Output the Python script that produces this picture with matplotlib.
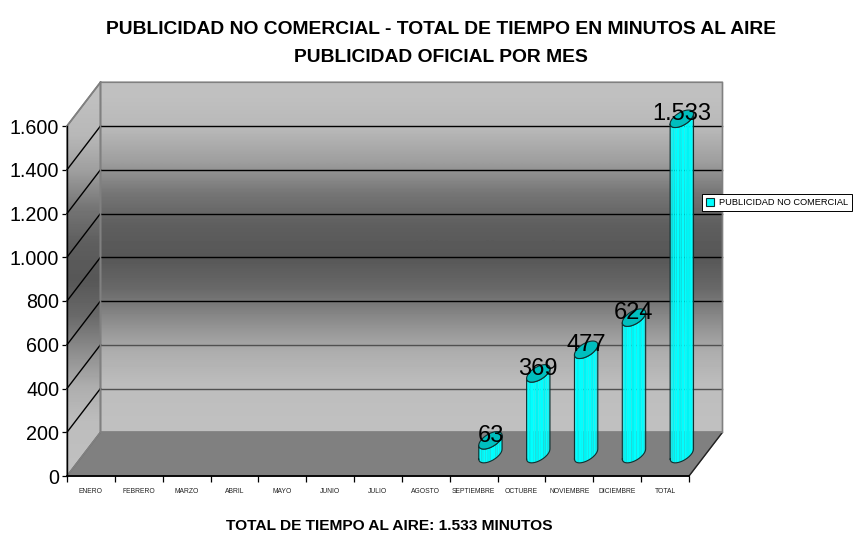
import matplotlib
matplotlib.use('Agg')
import matplotlib.pyplot as plt
import numpy as np
from matplotlib.patches import Patch, Polygon

plt.rcParams['font.family'] = ['Liberation Sans', 'DejaVu Sans']

meses = ['ENERO', 'FEBRERO', 'MARZO', 'ABRIL', 'MAYO', 'JUNIO', 'JULIO', 'AGOSTO',
         'SEPTIEMBRE', 'OCTUBRE', 'NOVIEMBRE', 'DICIEMBRE', 'TOTAL']
minutos = [0, 0, 0, 0, 0, 0, 0, 0, 63, 369, 477, 624, 1533]
valores_y = [0, 200, 400, 600, 800, 1000, 1200, 1400, 1600]
gris_pared = [0.75, 0.72, 0.62, 0.46, 0.37, 0.34, 0.41, 0.55, 0.68, 0.74, 0.75]

# fake 3D: depth moves the point right and up
dx = 0.70
dy = 200
n = len(meses)
ymax = valores_y[-1]


# point on the cylinder ring, t in radians
def anillo(i, altura, t):
    r = 0.2
    prof = 0.5 + r * np.sin(t)
    return i + 0.5 + r * np.cos(t) + prof * dx, altura + prof * dy


# draws one bar: body in thin strips, then the top ellipse
def cilindro(ax, i, valor):
    t0 = np.arctan2(0.2 * dx, 0.2)
    ts = np.linspace(t0 - np.pi, t0, 15)
    for k in range(len(ts) - 1):
        tt = np.linspace(ts[k], ts[k + 1], 5)
        x0, y0 = anillo(i, 0, tt)
        x1, y1 = anillo(i, valor, tt[::-1])
        color = '#00F4F4' if k % 3 == 0 else '#00FFFF'
        if k > 11:
            color = '#00E0E0'
        ax.fill(np.r_[x0, x1], np.r_[y0, y1], color=color, lw=0, clip_on=False, zorder=4)
    xb, yb = anillo(i, 0, ts)
    xa, ya = anillo(i, valor, ts[::-1])
    ax.plot(np.r_[xb, xa, xb[0]], np.r_[yb, ya, yb[0]], color='#103030', lw=0.8, clip_on=False, zorder=5)
    t = np.linspace(0, 2 * np.pi, 60)
    xt, yt = anillo(i, valor, t)
    ax.fill(xt, yt, facecolor='#00BEBE', edgecolor='#103030', lw=0.8, clip_on=False, zorder=6)


fig = plt.figure(figsize=(8.55, 5.33), dpi=100)
ax = fig.add_axes([67 / 855, (533 - 476) / 533, 622 / 855, 350 / 533])
ax.patch.set_visible(False)

grad = np.array(gris_pared).reshape(-1, 1)

# back wall
ax.imshow(grad, extent=(dx, n + dx, dy, ymax + dy), cmap='gray', vmin=0, vmax=1, aspect='auto',
          interpolation='bilinear', clip_on=False, zorder=0)

# left wall, same gradient cut to the side shape
lado = Polygon([(0, 0), (dx, dy), (dx, ymax + dy), (0, ymax)], closed=True, transform=ax.transData,
               facecolor='none', edgecolor='#808080', lw=1.2, clip_on=False, zorder=2)
ax.add_patch(lado)
im = ax.imshow(grad, extent=(0, dx, 0, ymax + dy), cmap='gray', vmin=0, vmax=1, aspect='auto',
               interpolation='bilinear', zorder=0)
im.set_clip_path(lado)
im.set_clip_box(fig.bbox)

# floor
ax.add_patch(Polygon([(0, 0), (n, 0), (n + dx, dy), (dx, dy)], closed=True, facecolor='#808080',
                     edgecolor='#606060', lw=1, clip_on=False, zorder=1))
ax.plot([n, n + dx], [0, dy], color='#202020', lw=0.9, clip_on=False, zorder=2)

# grid on both walls, the two lowest back lines are greyer
for v in valores_y[1:-1]:
    ax.plot([0, dx], [v, v + dy], color='black', lw=1, clip_on=False, zorder=2)
    ax.plot([dx, n + dx], [v + dy, v + dy], color='#505050' if v <= 400 else 'black', lw=1,
            clip_on=False, zorder=2)
ax.plot([0, dx, n + dx, n + dx, dx, dx], [ymax, ymax + dy, ymax + dy, dy, dy, ymax + dy],
        color='#808080', lw=1.2, clip_on=False, zorder=2)

for i, valor in enumerate(minutos):
    if valor > 0:
        cilindro(ax, i, valor)
        etiqueta = f'{valor:,}'.replace(',', '.')
        ax.annotate(etiqueta, (i + 0.5 + 0.5 * dx, valor + 0.5 * dy), xytext=(0, 3.2),
                    textcoords='offset points', ha='center', va='center', fontsize=17,
                    color='black', zorder=7, annotation_clip=False)

ax.set_xlim(0, n)
ax.set_ylim(0, ymax)
ax.set_xticks(np.arange(n + 1))
ax.set_xticks(np.arange(n) + 0.5, meses, minor=True)
ax.set_xticklabels([])
ax.tick_params(axis='x', which='major', length=4, width=0.9)
ax.tick_params(axis='x', which='minor', length=0, pad=8.5, labelsize=4.9, colors='#202020')
ax.set_yticks(valores_y, [f'{v:,}'.replace(',', '.') for v in valores_y])
ax.tick_params(axis='y', length=3.5, width=0.9, labelsize=14.2, pad=2)
ax.spines['top'].set_visible(False)
ax.spines['right'].set_visible(False)
ax.spines['left'].set_linewidth(1)
ax.spines['bottom'].set_linewidth(1.3)
for s in ax.spines.values():
    s.set_zorder(3)

fig.text(441 / 855, 1 - 29 / 533, 'PUBLICIDAD NO COMERCIAL - TOTAL DE TIEMPO EN MINUTOS AL AIRE',
         ha='center', va='center', fontsize=13.85, fontweight='bold')
fig.text(441 / 855, 1 - 58 / 533, 'PUBLICIDAD OFICIAL POR MES',
         ha='center', va='center', fontsize=13.85, fontweight='bold')
fig.text(389 / 855, 1 - 526.5 / 533, 'TOTAL DE TIEMPO AL AIRE: 1.533 MINUTOS',
         ha='center', va='center', fontsize=11.15, fontweight='bold')

h = Patch(facecolor='#00FFFF', edgecolor='#103030', lw=0.8, label='PUBLICIDAD NO COMERCIAL')
leg = fig.legend(handles=[h], loc='center', bbox_to_anchor=(777 / 855, 1 - 202.5 / 533), fontsize=6.7,
                 frameon=True, fancybox=False, edgecolor='black', framealpha=1,
                 handlelength=0.9, handleheight=0.9, handletextpad=0.5, borderpad=0.45, borderaxespad=0)
leg.get_frame().set_linewidth(0.7)
leg.set_zorder(10)

fig.savefig('out.png', dpi=100)
plt.close()
